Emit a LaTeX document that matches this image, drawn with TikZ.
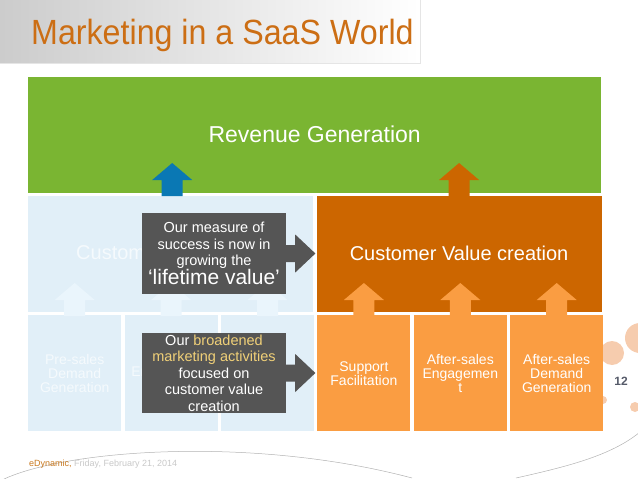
\documentclass[tikz,border=0pt]{standalone}
\usepackage{fontspec}
\setmainfont{Liberation Sans}
\newfontfamily\titlefont[FakeStretch=0.92]{Liberation Sans}
\usepackage{tikz}
\usetikzlibrary{positioning, calc}
\usepackage{xcolor}
\definecolor{titleorange}{RGB}{204,110,20}
\definecolor{revgreen}{RGB}{122,181,50}
\definecolor{cvcorange}{RGB}{204,102,0}
\definecolor{actorange}{RGB}{250,157,66}
\definecolor{acqblue}{RGB}{225,239,248}
\definecolor{faintblue}{RGB}{234,245,252}
\definecolor{fainttext}{RGB}{245,250,253}
\definecolor{arrowblue}{RGB}{10,120,180}
\definecolor{callgray}{RGB}{85,85,85}
\definecolor{hiyellow}{RGB}{240,208,120}
\definecolor{dotorange}{RGB}{246,204,174}
\definecolor{pagegray}{RGB}{85,90,105}
\definecolor{footgray}{RGB}{200,200,200}
\definecolor{edyn}{RGB}{200,120,30}

\begin{document}
\begin{tikzpicture}[
    x=1pt, y=-1pt,
    box/.style={rectangle, inner sep=0pt, minimum width=285pt, minimum height=116pt, align=center, text=white, font=\fontsize{20}{22}\selectfont},
    lowbox/.style={box, minimum width=93pt, font=\fontsize{14}{14}\selectfont},
    callout/.style={rectangle, fill=callgray, inner sep=0pt, minimum width=144pt, align=center, text=white, font=\fontsize{14.5}{16.5}\selectfont},
    swoosh/.style={draw=gray!60, line width=0.5pt},
    pics/upblock/.style={code={\fill[#1] (0,0) -- (20,17) -- (10.5,17) -- (10.5,33) -- (-10.5,33) -- (-10.5,17) -- (-20,17) -- cycle;}}
]
\useasboundingbox (0,0) rectangle (638,479);

% side dots
\fill[dotorange] (640,338) circle (15);
\fill[dotorange] (612,353) circle (12);
\fill[dotorange] (635,407) circle (5);
\fill[dotorange] (603,400) circle (4);

% title
\fill[left color=black!20, right color=white] (0,0) rectangle (420,63);
\draw[black!10] (0,63) -- (420,63) -- (420,0);
\node[anchor=base west, inner sep=0pt, text=titleorange, font=\titlefont\fontsize{35}{35}\selectfont] (title) at (31,45) {Marketing in a SaaS World};

% boxes
\node[box, fill=revgreen, minimum width=573pt, anchor=north west, font=\fontsize{23}{24}\selectfont] (rev) at (28,77) {\raisebox{3pt}{Revenue Generation}};
\node[box, fill=acqblue, text=fainttext, anchor=north west] (acq) at (28,196) {Customer Acquisition};
\node[box, fill=cvcorange, right=3pt of acq] (cvc) {\raisebox{1.5pt}{Customer Value creation}};

\node[lowbox, fill=acqblue, text=fainttext, anchor=north west] (presales) at (28,315) {Pre-sales\\Demand\\Generation};
\node[lowbox, fill=acqblue, text=fainttext, right=3pt of presales] (engage) {Engagement};
\node[lowbox, fill=acqblue, right=3pt of engage] (acqthree) {};
\node[lowbox, fill=actorange, right=3pt of acqthree] (support) {Support\\Facilitation};
\node[lowbox, fill=actorange, right=3pt of support] (aftereng) {After-sales\\Engagemen\\t};
\node[lowbox, fill=actorange, right=3pt of aftereng] (afterdem) {After-sales\\Demand\\Generation};

% block arrows
\foreach \n in {presales,engage,acqthree}
    \pic at ($(\n.north)+(0,-32)$) {upblock=faintblue};
\foreach \n in {support,aftereng,afterdem}
    \pic at ($(\n.north)+(0,-32)$) {upblock=actorange};
\pic at ($(acq.north)+(1.5,-33)$) {upblock=arrowblue};
\pic at ($(cvc.north)+(0,-33)$) {upblock=cvcorange};

% callouts
\node[callout, minimum height=81pt] (msr) at (214,253.5) {Our measure of\\success is now in\\growing the\\{\fontsize{21}{21}\selectfont ‘lifetime value’}};
\node[callout, minimum height=80pt] (brd) at (214,373) {Our \textcolor{hiyellow}{broadened}\\\textcolor{hiyellow}{marketing activities}\\focused on\\customer value\\creation};
\foreach \c in {msr,brd}
    \fill[callgray] ($(\c.east)+(0,-8.5)$) -- ++(9,0) -- ++(0,-10.5) -- ($(\c.east -| cvc.west)+(-1,0)$) -- ($(\c.east)+(9,19)$) -- ++(0,-10.5) -- ++(-9,0) -- cycle;

% footer
\node[text=pagegray, font=\bfseries\fontsize{12}{12}\selectfont] (pgno) at (621,381) {12};
\draw[swoosh] (0,481) .. controls (60,450) and (250,435) .. (412,478);
\draw[swoosh] (516,478) .. controls (570,466) and (612,455) .. (640,432);
\node[anchor=base west, inner sep=0pt, text=footgray, font=\fontsize{9}{9}\selectfont] (foot) at (29,466) {\textcolor{edyn}{eDynamic,} Friday, February 21, 2014};
\end{tikzpicture}
\end{document}
